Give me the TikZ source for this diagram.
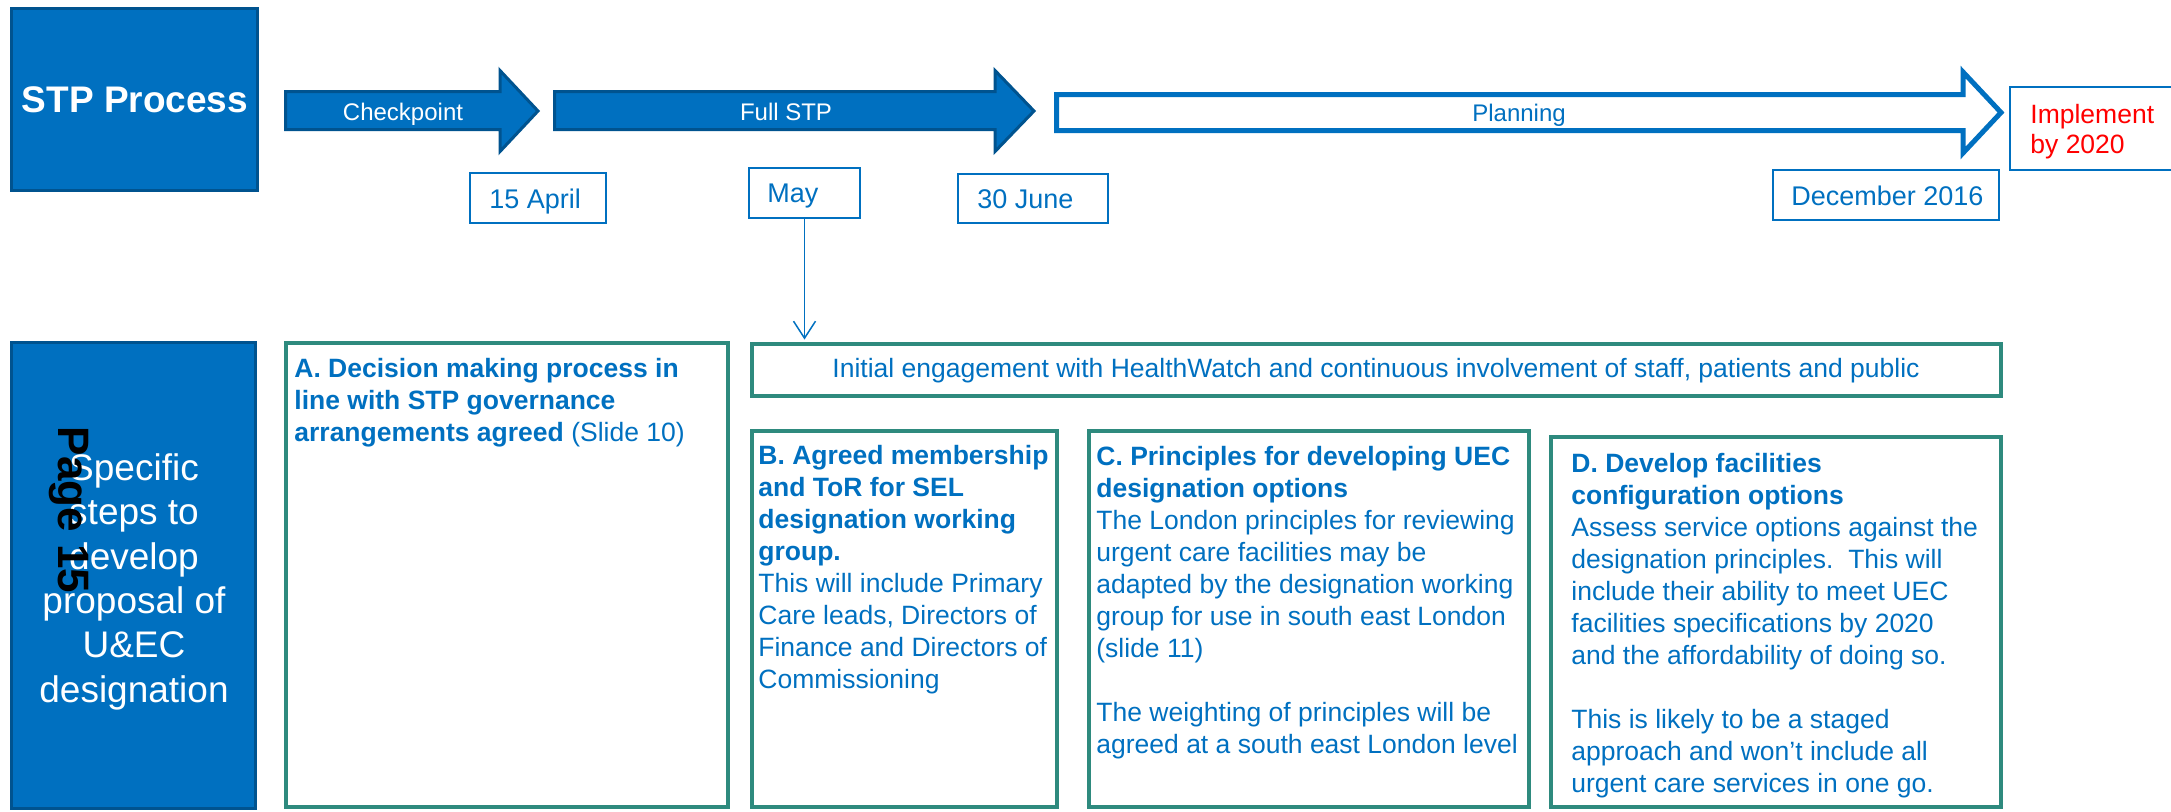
\documentclass[tikz,border=0pt]{standalone}
\usepackage{fontspec}
\setmainfont{Liberation Sans}
\usetikzlibrary{arrows.meta,fit}
\definecolor{mblue}{HTML}{0070C0}
\definecolor{dblue}{HTML}{00538F}
\definecolor{tealb}{HTML}{2E8A7E}
\definecolor{ired}{HTML}{FF0000}
\begin{document}
\begin{tikzpicture}[x=0.5pt,y=-0.5pt,
  solidbox/.style={fill=mblue,draw=dblue,line width=1.5pt,inner sep=0pt},
  filledarrow/.style={fill=mblue,draw=dblue,line width=1.5pt,line join=miter},
  openarrow/.style={fill=white,draw=mblue,line width=2.5pt,line join=miter},
  datebox/.style={draw=mblue,line width=0.75pt,inner sep=0pt},
  tealframe/.style={draw=tealb,line width=2.25pt,inner sep=0pt},
  arrowlabel/.style={anchor=base,inner sep=0pt,font=\fontsize{12}{14}\selectfont},
  datelabel/.style={anchor=base west,inner sep=0pt,text=mblue,font=\fontsize{13.5}{16}\selectfont},
  bodytext/.style={anchor=north west,inner sep=0pt,align=left,text=mblue,font=\fontsize{13.25}{16}\selectfont},
  link/.style={draw=mblue,line width=0.75pt,-{Straight Barb[length=8.5pt,width=11pt]}}
]
\useasboundingbox (0,0) rectangle (2171,811);

% STP Process box
\node[solidbox,fit={(11.5,8.5) (257.5,190.5)}] (stp) {};
\node[text=white,inner sep=0pt,font=\fontsize{18.5}{21}\bfseries] (stptext) at (135,100) {STP Process};

% timeline arrows
\draw[filledarrow] (285.5,91.5) -- (500,91.5) -- (500,70.5) -- (538,111) -- (500,151.5) -- (500,129.5) -- (285.5,129.5) -- cycle;
\node[arrowlabel,text=white] (checkpoint) at (403,120) {Checkpoint};
\draw[filledarrow] (554.5,91.5) -- (995,91.5) -- (995,70.5) -- (1034,111) -- (995,151.5) -- (995,129.5) -- (554.5,129.5) -- cycle;
\node[arrowlabel,text=white] (fullstp) at (786,120) {Full STP};
\draw[openarrow] (1056.5,94.5) -- (1963,94.5) -- (1963,72) -- (2001,112.5) -- (1963,153) -- (1963,130.5) -- (1056.5,130.5) -- cycle;
\node[arrowlabel,text=mblue] (planning) at (1519,121) {Planning};

% implement box
\node[datebox,fit={(2010,87) (2185,170)}] (impl) {};
\node[anchor=base west,inner sep=0pt,align=left,text=ired,font=\fontsize{13.25}{15.25}\selectfont] (impltext) at (2030,153.5) {Implement\\by 2020};

% date boxes
\node[datebox,fit={(470,173) (606,223)}] (d15) {};
\node[datelabel] (d15t) at (489,208) {15 April};
\node[datebox,fit={(749,168) (860,218)}] (dmay) {};
\node[datelabel] (dmayt) at (767,202.5) {May};
\node[datebox,fit={(958,174) (1108,223)}] (d30) {};
\node[datelabel] (d30t) at (977,208) {30 June};
\node[datebox,fit={(1773,170) (1999,220)}] (ddec) {};
\node[datelabel] (ddect) at (1791,205.5) {December 2016};

% left blue box
\node[solidbox,fit={(11.5,342.5) (255.5,808)}] (steps) {};
\node[anchor=north,inner sep=0pt,align=center,text=white,font=\fontsize{18.5}{22.2}\selectfont] (stepstext) at (134,453) {Specific\\steps to\\develop\\proposal of\\U\&EC\\designation};
\node[rotate=-90,inner sep=0pt,text=black,font=\fontsize{22}{26}\bfseries] (page) at (69,510) {Page 15};

% engagement box
\node[tealframe,fit={(752,344) (2001,396)}] (eng) {};
\node[anchor=base,inner sep=0pt,text=mblue,font=\fontsize{13.25}{16}\selectfont] (engtext) at (1376,377) {Initial engagement with HealthWatch and continuous involvement of staff, patients and public};

% step boxes
\node[tealframe,fit={(286,343) (728,807)}] (boxA) {};
\node[bodytext] (textA) at (294,358) {\textbf{A. Decision making process in}\\\textbf{line with STP governance}\\\textbf{arrangements agreed} (Slide 10)};

\node[tealframe,fit={(752,431) (1057,807)}] (boxB) {};
\node[bodytext] (textB) at (758,445) {\textbf{B. Agreed membership}\\\textbf{and ToR for SEL}\\\textbf{designation working}\\\textbf{group.}\\This will include Primary\\Care leads, Directors of\\Finance and Directors of\\Commissioning};

\node[tealframe,fit={(1089,431) (1529,807)}] (boxC) {};
\node[bodytext] (textC) at (1096,446) {\textbf{C. Principles for developing UEC}\\\textbf{designation options}\\The London principles for reviewing\\urgent care facilities may be\\adapted by the designation working\\group for use in south east London\\(slide 11)\\[16pt]The weighting of principles will be\\agreed at a south east London level};

\node[tealframe,fit={(1551,437) (2001,807)}] (boxD) {};
\node[bodytext] (textD) at (1571,453) {\textbf{D. Develop facilities}\\\textbf{configuration options}\\Assess service options against the\\designation principles.\ \ This will\\include their ability to meet UEC\\facilities specifications by 2020\\and the affordability of doing so.\\[16pt]This is likely to be a staged\\approach and won’t include all\\urgent care services in one go.};

% connector
\coordinate (engtop) at (dmay.south |- eng.north);
\draw[link] (dmay.south) -- ([yshift=1.1pt]engtop);
\end{tikzpicture}
\end{document}
